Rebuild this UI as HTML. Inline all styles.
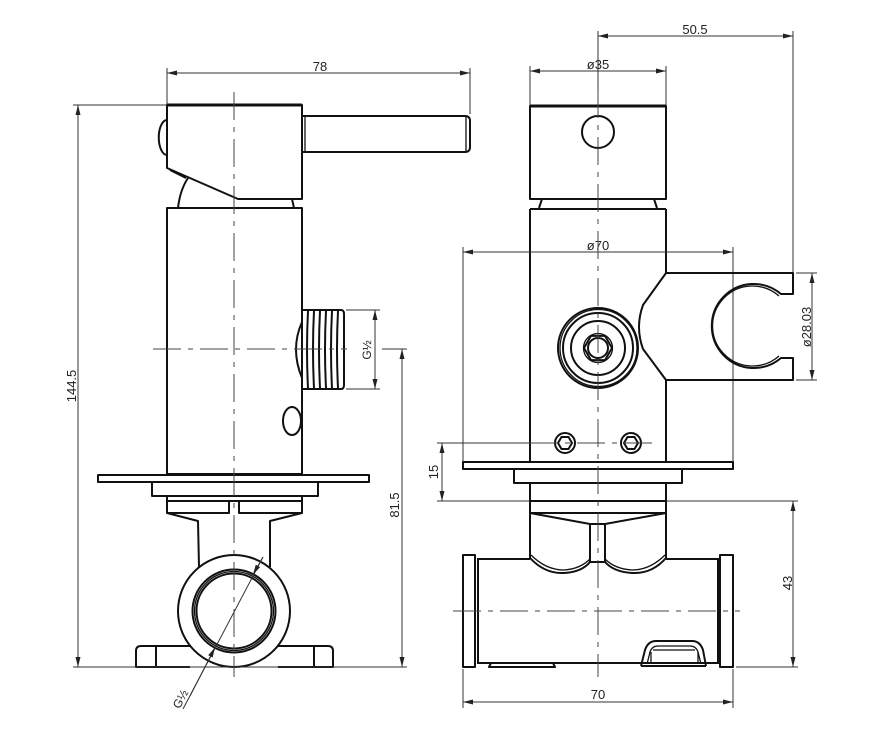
<!DOCTYPE html>
<html><head><meta charset="utf-8"><style>
html,body{margin:0;padding:0;background:#fff;}
svg{display:block;}
text{font-family:"Liberation Sans",sans-serif;font-size:13px;fill:#222;}
.o{fill:none;stroke:#111;stroke-width:2;stroke-linejoin:round;}
.t{fill:none;stroke:#111;stroke-width:1.3;}
.d{fill:none;stroke:#333;stroke-width:1;}
.c{fill:none;stroke:#444;stroke-width:1;stroke-dasharray:28,7,5,7;}
</style></head><body>
<svg width="869" height="751" viewBox="0 0 869 751" xmlns="http://www.w3.org/2000/svg">
<defs>
<marker id="a" viewBox="0 0 10 5" refX="10" refY="2.5" markerWidth="10" markerHeight="5" markerUnits="userSpaceOnUse" orient="auto-start-reverse">
<path d="M0,0 L10,2.5 L0,5 z" fill="#222"/></marker>
</defs>
<rect width="869" height="751" fill="#fff"/>

<!-- ================= LEFT VIEW ================= -->
<line class="d" x1="167" y1="68" x2="167" y2="104"/>
<line class="d" x1="470" y1="68" x2="470" y2="114"/>
<line class="d" x1="167" y1="73" x2="470" y2="73" marker-start="url(#a)" marker-end="url(#a)"/>
<text x="320" y="71" text-anchor="middle">78</text>

<line class="d" x1="73" y1="105" x2="167" y2="105"/>
<line class="d" x1="78" y1="105" x2="78" y2="667" marker-start="url(#a)" marker-end="url(#a)"/>
<text transform="translate(76,386) rotate(-90)" text-anchor="middle">144.5</text>

<path class="o" d="M167,105 L302,105 L302,199 L238,199 L167,168 Z"/>
<line x1="167" y1="105" x2="302" y2="105" stroke="#111" stroke-width="3"/>
<path class="o" d="M167,120 A8,17 0 0 0 167,155"/>
<path class="o" d="M170,170 L186,178"/>
<path class="o" d="M302,116 L465,116 Q470,116 470,121 L470,147 Q470,152 465,152 L302,152"/>
<line class="t" x1="305" y1="117" x2="305" y2="151"/>
<line class="t" x1="466" y1="117" x2="466" y2="151"/>
<path class="o" d="M178,208 Q180,190 188,178"/>
<path class="o" d="M292,199 L294,208"/>
<rect class="o" x="167" y="208" width="135" height="266"/>
<!-- thread -->
<path class="o" d="M302,310 L341,310 Q344,310 344,314 L344,385 Q344,389 341,389 L302,389"/>
<path class="o" d="M302,322 Q290,349 302,378"/>
<g stroke="#111" stroke-width="2" fill="none">
<path d="M308,311 Q306,349 308,388"/>
<path d="M314,311 Q312,349 314,388"/>
<path d="M320,311 Q318,349 320,388"/>
<path d="M326,311 Q324,349 326,388"/>
<path d="M332,311 Q330,349 332,388"/>
<path d="M338,311 Q336,349 338,388"/>
</g>
<ellipse class="o" cx="292" cy="421" rx="9" ry="14"/>
<line class="d" x1="346" y1="310" x2="380" y2="310"/>
<line class="d" x1="346" y1="389" x2="380" y2="389"/>
<line class="d" x1="375" y1="310" x2="375" y2="389" marker-start="url(#a)" marker-end="url(#a)"/>
<text transform="translate(371,350) rotate(-90)" text-anchor="middle" style="font-size:12px">G½</text>
<line class="c" x1="153" y1="349" x2="347" y2="349"/>
<line class="d" x1="382" y1="349" x2="407" y2="349"/>
<line class="d" x1="402" y1="349" x2="402" y2="667" marker-start="url(#a)" marker-end="url(#a)"/>
<text transform="translate(399,505) rotate(-90)" text-anchor="middle">81.5</text>

<rect class="o" x="98" y="475" width="271" height="7"/>
<rect class="o" x="152" y="482" width="166" height="14"/>
<rect class="o" x="167" y="496" width="135" height="5"/>
<rect class="o" x="167" y="501" width="62" height="12"/>
<rect class="o" x="239" y="501" width="63" height="12"/>
<path class="o" d="M167,513 L198,521 L199,567"/>
<path class="o" d="M302,513 L270,521 L270,567"/>
<circle class="o" cx="234" cy="611" r="56"/>
<circle class="o" cx="234" cy="611" r="41.5"/>
<circle class="t" cx="234" cy="611" r="39.5"/>
<circle class="o" cx="234" cy="611" r="37.5"/>
<path class="o" d="M190,646 L141,646 Q136,646 136,651 L136,667 L190,667"/>
<path class="o" d="M278,646 L328,646 Q333,646 333,651 L333,667 L278,667"/>
<line class="o" x1="156" y1="646" x2="156" y2="667"/>
<line class="o" x1="314" y1="646" x2="314" y2="667"/>
<line class="d" x1="73" y1="667" x2="407" y2="667"/>
<line class="c" x1="234" y1="92" x2="234" y2="677"/>
<line class="d" x1="183" y1="709" x2="263" y2="557"/>
<line class="d" x1="190" y1="696" x2="215" y2="647.5" marker-end="url(#a)"/>
<line class="d" x1="263" y1="557" x2="253" y2="574.5" marker-end="url(#a)"/>
<text transform="translate(184,701) rotate(-62)" text-anchor="middle" style="font-size:12px">G½</text>

<!-- ================= RIGHT VIEW ================= -->
<line class="d" x1="598" y1="31" x2="598" y2="90"/>
<line class="d" x1="793" y1="31" x2="793" y2="273"/>
<line class="d" x1="598" y1="36" x2="793" y2="36" marker-start="url(#a)" marker-end="url(#a)"/>
<text x="695" y="34" text-anchor="middle">50.5</text>
<line class="d" x1="530" y1="66" x2="530" y2="105"/>
<line class="d" x1="666" y1="66" x2="666" y2="105"/>
<line class="d" x1="530" y1="71" x2="666" y2="71" marker-start="url(#a)" marker-end="url(#a)"/>
<text x="598" y="69" text-anchor="middle">ø35</text>
<rect class="o" x="530" y="106" width="136" height="93"/>
<line x1="530" y1="106" x2="666" y2="106" stroke="#111" stroke-width="3"/>
<circle class="o" cx="598" cy="132" r="16"/>
<path class="o" d="M542,199 L539,208"/>
<path class="o" d="M654,199 L657,208"/>
<!-- body -->
<line class="o" x1="530" y1="209" x2="666" y2="209"/>
<line class="o" x1="530" y1="209" x2="530" y2="462"/>
<line class="o" x1="666" y1="209" x2="666" y2="273"/>
<line class="o" x1="666" y1="380" x2="666" y2="462"/>
<line class="d" x1="463" y1="247" x2="463" y2="462"/>
<line class="d" x1="733" y1="247" x2="733" y2="462"/>
<line class="d" x1="463" y1="252" x2="733" y2="252" marker-start="url(#a)" marker-end="url(#a)"/>
<text x="598" y="250" text-anchor="middle">ø70</text>
<!-- clip -->
<path class="o" d="M666,273 L793,273 L793,294 L781,294 A42,42 0 1 0 781,358 L793,358 L793,380 L666,380 L643,349 Q635,327 643,305 Z"/>
<path class="t" d="M779,296 A40,40 0 1 0 779,356"/>
<line class="d" x1="796" y1="273" x2="817" y2="273"/>
<line class="d" x1="796" y1="380" x2="817" y2="380"/>
<line class="d" x1="812" y1="273" x2="812" y2="380" marker-start="url(#a)" marker-end="url(#a)"/>
<text transform="translate(811,327) rotate(-90)" text-anchor="middle">ø28.03</text>
<!-- nut -->
<circle class="o" cx="598" cy="348" r="40"/>
<circle class="t" cx="598.5" cy="348" r="38.5"/>
<circle class="o" cx="598" cy="348" r="35"/>
<circle class="o" cx="598" cy="348" r="27"/>
<polygon class="o" points="612,348 605,360.1 591,360.1 584,348 591,335.9 605,335.9"/>
<circle class="t" cx="598" cy="348" r="14.5"/>
<circle class="o" cx="598" cy="348" r="10"/>
<circle class="o" cx="565" cy="443" r="10"/>
<polygon class="o" points="572,443 568.5,449 561.5,449 558,443 561.5,437 568.5,437"/>
<circle class="o" cx="631" cy="443" r="10"/>
<polygon class="o" points="638,443 634.5,449 627.5,449 624,443 627.5,437 634.5,437"/>
<line class="d" x1="437" y1="443" x2="530" y2="443"/>
<line class="c" x1="530" y1="443" x2="653" y2="443"/>
<line class="d" x1="442" y1="443" x2="442" y2="501" marker-start="url(#a)" marker-end="url(#a)"/>
<text transform="translate(438,472) rotate(-90)" text-anchor="middle">15</text>
<rect class="o" x="463" y="462" width="270" height="7"/>
<rect class="o" x="514" y="469" width="168" height="14"/>
<line class="o" x1="530" y1="483" x2="530" y2="501"/>
<line class="o" x1="666" y1="483" x2="666" y2="501"/>
<line class="d" x1="437" y1="501" x2="798" y2="501"/>
<rect class="o" x="530" y="501" width="136" height="12"/>
<path class="o" d="M530,513 L590,524 L605,524 L666,513"/>
<line class="o" x1="590" y1="524" x2="590" y2="562"/>
<line class="o" x1="605" y1="524" x2="605" y2="562"/>
<line class="o" x1="530" y1="513" x2="530" y2="558"/>
<line class="o" x1="666" y1="513" x2="666" y2="558"/>
<path class="o" d="M530,558 Q545,574 564,573 Q582,572 590,562 L605,562 Q614,572 632,573 Q652,574 666,558"/>
<path class="t" d="M531,555 Q546,570 564,570 Q580,569 590,559 M605,559 Q615,569 632,570 Q650,570 665,555"/>
<line class="o" x1="478" y1="559" x2="530" y2="559"/>
<line class="o" x1="666" y1="559" x2="718" y2="559"/>
<line class="o" x1="478" y1="663" x2="718" y2="663"/>
<rect class="o" x="463" y="555" width="12" height="112"/>
<line class="o" x1="478" y1="558" x2="478" y2="664"/>
<rect class="o" x="720" y="555" width="13" height="112"/>
<line class="o" x1="718" y1="558" x2="718" y2="664"/>
<path class="o" d="M489,667 L491,663 L553,663 L555,667 Z"/>
<path class="o" d="M641,666 L645,650 Q648,641 656,641 L692,641 Q700,641 703,650 L706,666"/>
<path class="t" d="M647,664 L650,652 Q652,646 658,646 L690,646 Q696,646 698,652 L701,664"/>
<line class="t" x1="653" y1="650" x2="695" y2="650"/>
<line class="t" x1="651" y1="652" x2="651" y2="664"/>
<line class="t" x1="698" y1="652" x2="698" y2="664"/>
<line class="o" x1="641" y1="666" x2="706" y2="666"/>
<line class="c" x1="598" y1="90" x2="598" y2="677"/>
<line class="c" x1="453" y1="611" x2="740" y2="611"/>
<line class="d" x1="736" y1="667" x2="798" y2="667"/>
<line class="d" x1="793" y1="501" x2="793" y2="667" marker-start="url(#a)" marker-end="url(#a)"/>
<text transform="translate(792,583) rotate(-90)" text-anchor="middle">43</text>
<line class="d" x1="463" y1="669" x2="463" y2="708"/>
<line class="d" x1="733" y1="669" x2="733" y2="708"/>
<line class="d" x1="463" y1="702" x2="733" y2="702" marker-start="url(#a)" marker-end="url(#a)"/>
<text x="598" y="699" text-anchor="middle">70</text>
</svg>
</body></html>
